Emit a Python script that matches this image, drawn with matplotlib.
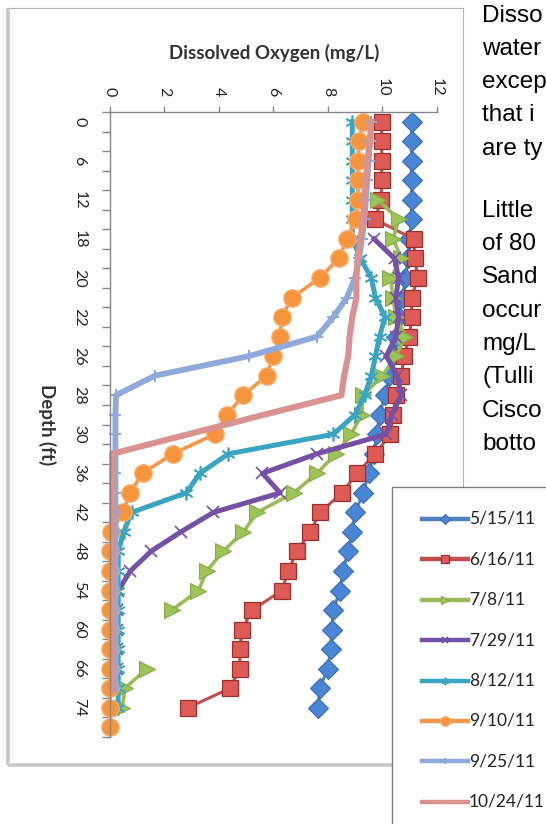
import matplotlib
matplotlib.use("Agg")
import matplotlib.pyplot as plt
from matplotlib.patches import Rectangle
import numpy as np

W, H = 546, 824
nan = np.nan

# depth categories (ft), only every other one is labelled on the axis
depth_cats = [0, 3, 6, 9, 12, 15, 18, 19, 20, 21, 22, 24, 26, 27, 28, 29,
              30, 33, 36, 39, 42, 45, 48, 51, 54, 57, 60, 63, 66, 70, 74, 78]

dates = ["5/15/11", "6/16/11", "7/8/11", "7/29/11",
         "8/12/11", "9/10/11", "9/25/11", "10/24/11"]

# dissolved oxygen (mg/L), one value per depth category
do_0515 = [11.08, 11.08, 11.08, 11.08, 11.08, 11.08, 11.0, 10.95, 10.85, 10.75,
           10.6, 10.5, 10.4, 10.25, 10.1, 9.9, 9.8, 9.7, 9.5, 9.3, 9.0, 8.9,
           8.75, 8.55, 8.45, 8.2, 8.15, 8.1, 8.0, 7.7, 7.65, nan]
do_0616 = [9.98, 9.98, 9.98, 9.98, 9.95, 9.74, 11.15, 11.2, 11.3, 11.08, 11.08,
           11.0, 10.8, 10.7, 10.5, 10.4, 10.3, 9.74, 9.07, 8.52, 7.72, 7.35,
           6.87, 6.54, 6.32, 5.22, 4.85, 4.77, 4.77, 4.41, 2.87, nan]
do_0708 = [nan, nan, nan, nan, 9.85, 10.6, 10.4, 10.7, 10.3, 10.4, 10.5, 10.85,
           10.5, 10.0, 9.3, 9.25, 8.85, 8.3, 7.6, 6.75, 5.4, 4.9, 4.15, 3.55,
           3.25, 2.27, nan, nan, 1.35, 0.55, 0.45, nan]
do_0729 = [nan, nan, nan, nan, nan, nan, 9.7, 10.45, 10.6, 10.5, 10.6, 10.5,
           10.15, 10.55, 10.7, 10.35, 10.15, 7.6, 5.6, 6.25, 3.8, 2.6, 1.5,
           0.75, 0.3, 0.25, 0.25, 0.25, 0.25, nan, nan, nan]
do_0812 = [8.9, 8.9, 8.9, 8.9, 8.9, 8.9, 8.9, 9.2, 9.6, 9.75, 10.1, 9.9, 9.75,
           9.6, 9.35, 9.0, 8.2, 4.35, 3.3, 2.8, 0.8, 0.5, 0.3, 0.3, 0.3, 0.3,
           0.3, 0.3, 0.3, 0.3, 0.3, nan]
do_0910 = [9.3, 9.15, 9.1, 9.1, 9.1, 9.05, 8.7, 8.4, 7.7, 6.7, 6.3, 6.25, 6.0,
           5.75, 4.9, 4.3, 3.85, 2.3, 1.2, 0.73, 0.48, 0.05, 0.0, 0.0, 0.0,
           0.0, 0.0, 0.0, 0.0, 0.0, 0.0, 0.0]
do_0925 = [9.6, 9.55, 9.5, 9.45, 9.4, 9.35, 9.25, 9.15, 9.0, 8.7, 8.2, 7.6,
           5.1, 1.65, 0.22, 0.2, 0.2, 0.2, 0.2, 0.2, 0.2, 0.2, 0.2, 0.2, 0.2,
           0.2, 0.2, 0.2, 0.2, 0.2, nan, nan]
do_1024 = [9.6, 9.55, 9.45, 9.4, 9.35, 9.3, 9.2, 9.1, 9.05, 9.05, 8.9, 8.8,
           8.75, 8.6, 8.5, 5.66, 2.87, 0.08, 0.08, 0.08, 0.08, 0.08, 0.08,
           0.08, 0.08, 0.08, 0.08, 0.08, 0.08, 0.08, nan, nan]

series = [do_0515, do_0616, do_0708, do_0729, do_0812, do_0910, do_0925, do_1024]

# body text next to the chart, as much of each line as is visible
text_lines = ["Disso", "water", "excep", "that i", "are ty", "",
              "Little", "of 80", "Sand", "occur", "mg/L", "(Tulli",
              "Cisco", "botto"]

asterisk = (6, 2, 0)
styles = [
    dict(color="#4F81BD", lw=2.2, marker="D", ms=10, mfc="#4A86D6", mec="#3B6CB0", mew=0.8),
    dict(color="#C0504D", lw=2.2, marker="s", ms=11, mfc="#DE5A56", mec="#9A302C", mew=0.9),
    dict(color="#9BBB59", lw=2.6, marker=">", ms=11, mfc="#9CC456", mec="#86AA45", mew=0.8),
    dict(color="#7451A6", lw=3.6, marker="x", ms=9, mew=1.2, mec="#7451A6"),
    dict(color="#3AA5C3", lw=3.6, marker=asterisk, ms=10, mew=1.2, mec="#3AA5C3"),
    dict(color="#F79646", lw=2.6, marker="o", ms=12.5, mfc="#F7953F", mec="#F5AE6E", mew=1.0),
    dict(color="#8EA9DA", lw=4.2, marker="+", ms=9, mew=1.5, mec="#8EA9DA"),
    dict(color="#D9928F", lw=4.4),
]

fig = plt.figure(figsize=(W / 100, H / 100), dpi=100)


def fx(px):
    return px / W


def fy(py):
    return 1 - py / H


# chart frame
bg = fig.add_axes([0, 0, 1, 1], zorder=0)
bg.set_xlim(0, W)
bg.set_ylim(H, 0)
bg.axis("off")
bg.add_patch(Rectangle((8, 8), 455, 757, fill=False, ec="#B4B4B4", lw=0.8))
bg.plot([8, 8], [8, 765], color="#C8C8C8", lw=2.6, solid_capstyle="butt")
bg.plot([8, 392], [765, 765], color="#C8C8C8", lw=2.6, solid_capstyle="butt")

# plot area
ax = fig.add_axes([fx(110), fy(737), (436.7 - 110) / W, (737 - 112) / H], zorder=1)
ax.patch.set_alpha(0)
idx = np.arange(len(depth_cats))
for vals, st in zip(series, styles):
    ax.plot(vals, idx, clip_on=False, **st)

ax.set_xlim(0, 12)
ax.set_ylim(len(depth_cats) - 0.5, -0.5)
for s in ["right", "bottom"]:
    ax.spines[s].set_visible(False)
for s in ["left", "top"]:
    ax.spines[s].set_color("#868686")
    ax.spines[s].set_linewidth(1.0)

tick_font = dict(family="Lato", size=11.5, color="#222222")
ax.xaxis.tick_top()
ax.set_xticks(np.arange(0, 13, 2))
ax.set_xticklabels([str(v) for v in range(0, 13, 2)], rotation=-90, **tick_font)
ax.set_yticks(idx[::2])
ax.set_yticklabels([str(d) for d in depth_cats[::2]], rotation=-90, va="center", **tick_font)
ax.set_yticks(np.arange(-0.5, len(depth_cats), 1), minor=True)
ax.tick_params(axis="x", length=4.3, width=1, color="#868686", pad=7)
ax.tick_params(axis="y", which="major", length=0, pad=17)
ax.tick_params(axis="y", which="minor", length=5.8, width=1, color="#868686")

fig.text(fx(274.5), fy(53), "Dissolved Oxygen (mg/L)", ha="center", va="center",
         family="Lato", weight="bold", size=13.5, color="#333333")
fig.text(fx(47), fy(425), "Depth (ft)", ha="center", va="center", rotation=-90,
         family="Lato", weight="bold", size=13.5, color="#333333")

# legend
lg = fig.add_axes([0, 0, 1, 1], zorder=3)
lg.set_xlim(0, W)
lg.set_ylim(H, 0)
lg.axis("off")
lg.add_patch(Rectangle((392, 487), 200, 400, fc="white", ec="#7F7F7F", lw=1.0))
for k, (lab, st) in enumerate(zip(dates, styles)):
    y = 519 + 40.4 * k
    st2 = dict(st)
    if "ms" in st2:
        st2["ms"] = st2["ms"] * 0.55
    st2["lw"] = 3.2
    lg.plot([422, 445, 468], [y, y, y], markevery=[1], **st2)
    lg.text(469, y, lab, ha="left", va="center", family="Lato", size=12.5, color="#222222")

for k, line in enumerate(text_lines):
    if line:
        yy = 15.5 + 33.3 * k if k < 6 else 11 + 33.3 * k
        fig.text(fx(482), fy(yy), line, ha="left", va="center",
                 family="Liberation Sans", size=17.5, color="black")

fig.savefig("out.png", dpi=100)
